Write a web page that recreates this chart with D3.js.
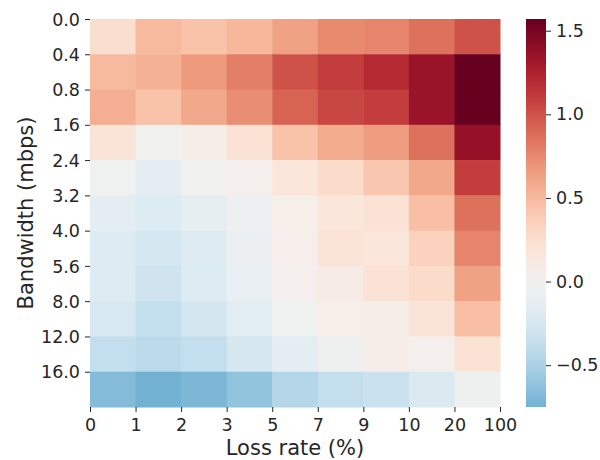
<!DOCTYPE html>
<html>
<head>
<meta charset="utf-8">
<script src="https://cdn.jsdelivr.net/npm/d3@7"></script>
<style>
  body { margin: 0; background: #fff; }
  text { font-family: "DejaVu Sans", sans-serif; fill: #262626; }
</style>
</head>
<body>
<svg id="chart" width="600" height="460"></svg>
<script>
const lossRates = ["0", "1", "2", "3", "5", "7", "9", "10", "20", "100"];
const bandwidths = ["0.0", "0.4", "0.8", "1.6", "2.4", "3.2", "4.0", "5.6", "8.0", "12.0", "16.0"];

// one row per bandwidth bucket, 9 loss-rate bins each
const row00 = [0.25, 0.50, 0.45, 0.52, 0.63, 0.75, 0.77, 0.86, 1.00];
const row04 = [0.50, 0.55, 0.67, 0.80, 1.00, 1.10, 1.20, 1.35, 1.57];
const row08 = [0.56, 0.45, 0.60, 0.73, 0.92, 1.05, 1.10, 1.35, 1.57];
const row16 = [0.20, -0.02, 0.08, 0.22, 0.45, 0.58, 0.66, 0.86, 1.37];
const row24 = [-0.03, -0.15, -0.02, 0.03, 0.18, 0.27, 0.42, 0.60, 1.10];
const row32 = [-0.15, -0.20, -0.13, -0.06, 0.06, 0.18, 0.22, 0.47, 0.86];
const row40 = [-0.20, -0.26, -0.19, -0.08, 0.05, 0.20, 0.18, 0.35, 0.77];
const row56 = [-0.20, -0.30, -0.20, -0.10, 0.03, 0.10, 0.22, 0.27, 0.63];
const row80 = [-0.24, -0.37, -0.27, -0.16, -0.03, 0.06, 0.07, 0.20, 0.47];
const row120 = [-0.37, -0.42, -0.37, -0.25, -0.15, -0.05, 0.07, 0.03, 0.22];
const row160 = [-0.68, -0.75, -0.71, -0.62, -0.45, -0.37, -0.33, -0.22, -0.05];

const rows = [row00, row04, row08, row16, row24, row32, row40, row56, row80, row120, row160];
const cbTicks = [1.5, 1.0, 0.5, 0.0, -0.5];

const vmin = -0.75, vmax = 1.57;
const plotLeft = 90, plotRight = 500, plotTop = 19, plotBottom = 407;

const svg = d3.select("#chart");

// cells sit between tick positions, like a seaborn heatmap
const x = d3.scaleLinear().domain([0, rows[0].length]).range([plotLeft, plotRight]);
const y = d3.scaleLinear().domain([0, rows.length]).range([plotTop, plotBottom]);

// centered diverging map: 0 is white, range is symmetric about it
const vr = Math.max(vmax, -vmin);
const color = v => d3.interpolateRdBu(1 - (v + vr) / (2 * vr));

const cells = [];
rows.forEach((r, i) => r.forEach((v, j) => cells.push({ i, j, v })));

svg.append("g").selectAll("rect")
  .data(cells)
  .join("rect")
  .attr("x", d => x(d.j))
  .attr("y", d => y(d.i))
  .attr("width", x(1) - x(0) + 0.5)
  .attr("height", y(1) - y(0) + 0.5)
  .attr("fill", d => color(d.v));

const xAxis = d3.axisBottom(x)
  .tickValues(d3.range(lossRates.length))
  .tickFormat(i => lossRates[i])
  .tickSize(5).tickPadding(7);
const gx = svg.append("g").attr("transform", `translate(0,${plotBottom})`).call(xAxis);

const yAxis = d3.axisLeft(y)
  .tickValues(d3.range(bandwidths.length))
  .tickFormat(i => bandwidths[i])
  .tickSize(5).tickPadding(5);
const gy = svg.append("g").attr("transform", `translate(${plotLeft},0)`).call(yAxis);

[gx, gy].forEach(g => {
  g.select(".domain").remove();
  g.selectAll(".tick line").attr("stroke", "#262626").attr("stroke-width", 1);
  g.selectAll(".tick text").style("font-size", "17.5px").attr("fill", "#262626");
});
gy.selectAll(".tick text").attr("dy", "0.35em");

svg.append("text")
  .attr("x", (plotLeft + plotRight) / 2).attr("y", 455)
  .attr("text-anchor", "middle")
  .style("font-size", "21px")
  .text("Loss rate (%)");

svg.append("text")
  .attr("transform", `translate(33,${(plotTop + plotBottom) / 2}) rotate(-90)`)
  .attr("text-anchor", "middle")
  .style("font-size", "21px")
  .text("Bandwidth (mbps)");

// colorbar
const cbX = 526, cbW = 20;
const cy = d3.scaleLinear().domain([vmin, vmax]).range([plotBottom, plotTop]);
const defs = svg.append("defs");
const grad = defs.append("linearGradient").attr("id", "cb")
  .attr("x1", 0).attr("y1", 1).attr("x2", 0).attr("y2", 0);
d3.range(0, 1.0001, 0.05).forEach(t => {
  grad.append("stop").attr("offset", t).attr("stop-color", color(vmin + t * (vmax - vmin)));
});
svg.append("rect")
  .attr("x", cbX).attr("y", plotTop)
  .attr("width", cbW).attr("height", plotBottom - plotTop)
  .attr("fill", "url(#cb)");

const cbAxis = d3.axisRight(cy)
  .tickValues(cbTicks)
  .tickFormat(d => d3.format(".1f")(d).replace("-", "\u2212"))
  .tickSize(5).tickPadding(5);
const gc = svg.append("g").attr("transform", `translate(${cbX + cbW},0)`).call(cbAxis);
gc.select(".domain").remove();
gc.selectAll(".tick line").attr("stroke", "#262626");
gc.selectAll(".tick text").style("font-size", "17.5px").attr("fill", "#262626");
</script>
</body>
</html>
